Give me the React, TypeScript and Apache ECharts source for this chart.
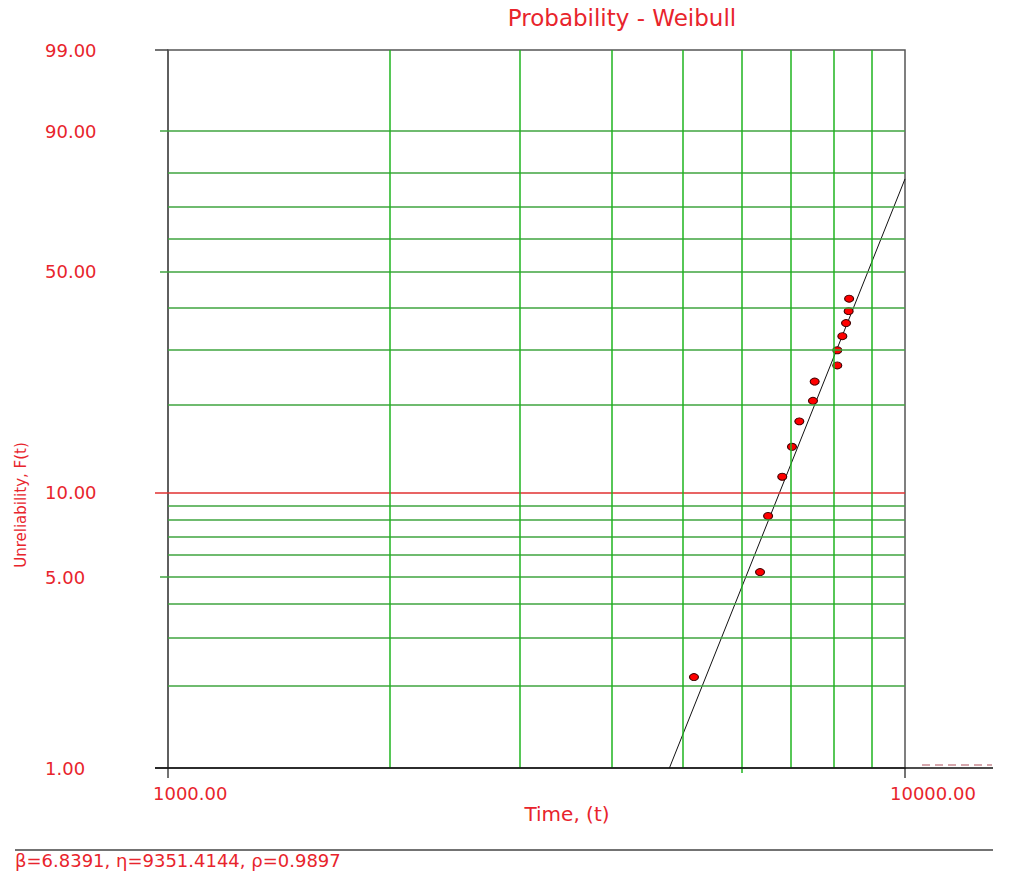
import React, { useEffect, useRef } from "react";
import * as echarts from "echarts";

// ---- data ----
const TITLE = "Probability - Weibull";
const X_LABEL_TIMES = [1000, 10000];
const Y_LABEL_PCTS = [1, 5, 10, 50, 90, 99];
const X_GRID_TIMES = [2000, 3000, 4000, 5000, 6000, 7000, 8000, 9000];
const Y_GRID_GREEN = [2, 3, 4, 5, 6, 7, 8, 9, 20, 30, 40, 50, 60, 70, 80, 90];
const Y_GRID_RED = [10];
const Y_SHORT_TICKS = [5, 50, 90];
const X_SHORT_TICKS = [6000];

const failureTimes = [5172, 6358, 6520, 6815, 7025, 7188, 7501, 7541, 8093, 8093, 8222, 8318, 8386, 8398];
const unreliabilityPct = [2.16, 5.21, 8.27, 11.37, 14.43, 17.6, 20.6, 23.8, 26.8, 29.9, 33.0, 36.1, 39.1, 42.4];

// fitted line end points (time, F%)
const fitTimes = [4790, 10000];
const fitPcts = [1.0, 78.4];

const FOOTER = "β=6.8391, η=9351.4144, ρ=0.9897";

// ---- scale transforms (Weibull paper) ----
const tx = (t: number) => Math.log10(t);
const ty = (f: number) => Math.log(-Math.log(1 - f / 100));
const fromTy = (v: number) => 100 * (1 - Math.exp(-Math.exp(v)));

const RED = "#e8242c";
const GREEN_H = "#3fa43f";
const GREEN_V = "#1fb51f";
const FONT = "DejaVu Sans";

export default function App() {
  const ref = useRef<HTMLDivElement>(null);

  useEffect(() => {
    if (!ref.current) return;
    const chart = echarts.init(ref.current, null, { renderer: "svg" });

    const yMin = ty(1);
    const yMax = ty(99);

    const hLines = [
      ...Y_GRID_GREEN.map((f) => ({ f, color: GREEN_H })),
      ...Y_GRID_RED.map((f) => ({ f, color: "#e03030" })),
    ].map(({ f, color }) => [
      { coord: [3, ty(f)], lineStyle: { color, width: 1.5, type: "solid" } },
      { coord: [4, ty(f)] },
    ]);
    const vLines = X_GRID_TIMES.map((t) => [
      { coord: [tx(t), yMin], lineStyle: { color: GREEN_V, width: 1.5, type: "solid" } },
      { coord: [tx(t), yMax] },
    ]);

    const baseY = {
      type: "value",
      position: "left",
      offset: 0,
      min: yMin,
      max: yMax,
      splitLine: { show: false },
      axisLine: { show: false, onZero: false },
    };
    const baseX = {
      type: "value",
      position: "bottom",
      offset: 0,
      min: 3,
      max: 4,
      splitLine: { show: false },
      axisLine: { show: false, onZero: false },
    };

    chart.setOption({
      animation: false,
      grid: {
        left: 168,
        right: 110,
        top: 50,
        bottom: 110,
        show: true,
        borderColor: "#555",
        borderWidth: 1.5,
        backgroundColor: "transparent",
      },
      xAxis: [
        {
          ...baseX,
          axisTick: {
            show: true,
            customValues: X_LABEL_TIMES.map(tx),
            length: 10,
            lineStyle: { color: "#444", width: 1.5 },
          },
          axisLabel: {
            show: true,
            customValues: X_LABEL_TIMES.map(tx),
            formatter: (v: number) => Math.pow(10, v).toFixed(2),
            color: RED,
            fontSize: 18,
            fontFamily: FONT,
            align: "left",
            padding: [0, 0, 0, -15],
            margin: 16,
          },
        },
        {
          ...baseX,
          axisTick: {
            show: true,
            customValues: X_SHORT_TICKS.map(tx),
            length: 5,
            lineStyle: { color: GREEN_V, width: 1.5 },
          },
          axisLabel: { show: false },
        },
      ],
      yAxis: [
        {
          ...baseY,
          axisLine: { show: true, onZero: false, lineStyle: { color: "#555", width: 1.5 } },
          axisTick: {
            show: true,
            customValues: [ty(1), ty(99)],
            length: 13,
            lineStyle: { color: "#444", width: 1.5 },
          },
          axisLabel: {
            show: true,
            customValues: Y_LABEL_PCTS.map(ty),
            formatter: (v: number) => fromTy(v).toFixed(2),
            color: RED,
            fontSize: 18,
            fontFamily: FONT,
            align: "left",
            margin: 123,
          },
        },
        {
          ...baseY,
          axisTick: {
            show: true,
            customValues: Y_GRID_RED.map(ty),
            length: 13,
            lineStyle: { color: "#e03030", width: 1.5 },
          },
          axisLabel: { show: false },
        },
        {
          ...baseY,
          axisTick: {
            show: true,
            customValues: Y_SHORT_TICKS.map(ty),
            length: 8,
            lineStyle: { color: GREEN_H, width: 1.5 },
          },
          axisLabel: { show: false },
        },
      ],
      series: [
        {
          type: "line",
          data: [],
          z: 1,
          markLine: {
            silent: true,
            symbol: ["none", "none"],
            label: { show: false },
            animation: false,
            data: [...hLines, ...vLines],
          },
        },
        {
          type: "line",
          name: "Fit",
          data: fitTimes.map((t, i) => [tx(t), ty(fitPcts[i])]),
          symbol: "none",
          lineStyle: { color: "#111", width: 1 },
          z: 3,
        },
        {
          type: "scatter",
          name: "Data",
          data: failureTimes.map((t, i) => [tx(t), ty(unreliabilityPct[i])]),
          symbol: "circle",
          symbolSize: [9, 7],
          itemStyle: { color: "#ff0000", borderColor: "#400000", borderWidth: 1, opacity: 1 },
          z: 4,
        },
      ],
      graphic: [
        {
          type: "text",
          x: 622,
          y: 18,
          style: {
            text: TITLE,
            fill: RED,
            font: `23px "${FONT}"`,
            textAlign: "center",
            textVerticalAlign: "middle",
          },
        },
        {
          type: "text",
          x: 567,
          y: 814,
          style: {
            text: "Time, (t)",
            fill: RED,
            font: `20px "${FONT}"`,
            textAlign: "center",
            textVerticalAlign: "middle",
          },
        },
        {
          type: "text",
          x: 21,
          y: 505,
          rotation: Math.PI / 2,
          style: {
            text: "Unreliability, F(t)",
            fill: RED,
            font: `15px "${FONT}"`,
            textAlign: "center",
            textVerticalAlign: "middle",
          },
        },
        {
          type: "line",
          shape: { x1: 155, y1: 768, x2: 993, y2: 768 },
          style: { stroke: "#111", lineWidth: 1.5 },
          z: 10,
        },
        {
          type: "line",
          shape: { x1: 922, y1: 765, x2: 992, y2: 765 },
          style: { stroke: "#c98a92", lineWidth: 1.5, lineDash: [8, 5] },
        },
        {
          type: "line",
          shape: { x1: 15, y1: 850, x2: 993, y2: 850 },
          style: { stroke: "#444", lineWidth: 1.5 },
        },
        {
          type: "text",
          x: 15,
          y: 860,
          style: {
            text: FOOTER,
            fill: RED,
            font: `18px "${FONT}"`,
            textAlign: "left",
            textVerticalAlign: "middle",
          },
        },
      ],
    } as any);

    return () => chart.dispose();
  }, []);

  return (
    <div
      ref={ref}
      style={{ position: "fixed", left: 0, top: 0, width: 1015, height: 878, background: "#fff" }}
    />
  );
}
